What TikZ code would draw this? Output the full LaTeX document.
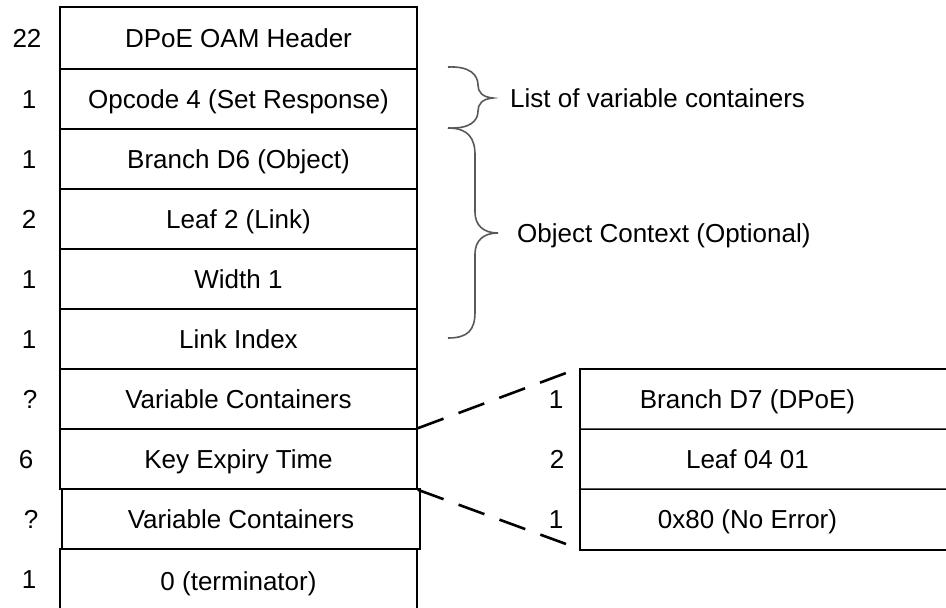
\documentclass[tikz,border=0pt]{standalone}
\usepackage{fontspec}
\setmainfont{Liberation Sans}
\begin{document}
\begin{tikzpicture}[x=1pt,y=-1pt,
  txt/.style={font=\fontsize{26}{30}\selectfont, inner sep=0pt, text height=18.6pt, text depth=0pt},
  cell/.style={txt, draw, line width=1.5pt, minimum width=357pt, minimum height=60pt},
  rcell/.style={txt, minimum width=335pt, minimum height=60pt},
  num/.style={txt},
  boxline/.style={line width=1.5pt},
  conn/.style={line width=2.6pt, dash pattern=on 27.5pt off 16pt},
  bracecurve/.style={line width=1.6pt, draw=black!65}]
\clip (0,0) rectangle (946,608);
% main column
\node[cell, minimum height=62pt] (r1) at (238.5,38) {DPoE OAM Header};
\node[cell] (r2) at (238.5,99) {Opcode 4 (Set Response)};
\node[cell] (r3) at (238.5,159) {Branch D6 (Object)};
\node[cell] (r4) at (238.5,219) {Leaf 2 (Link)};
\node[cell] (r5) at (238.5,279) {Width 1};
\node[cell] (r6) at (238.5,339) {Link Index};
\node[cell] (r7) at (238.5,399) {Variable Containers};
\node[cell] (r8) at (238.5,459) {Key Expiry Time};
\node[cell, minimum width=358pt] (r9) at (241,519) {Variable Containers};
\node[cell, minimum height=64pt] (r10) at (238.5,581) {0 (terminator)};
% sizes
\node[num] (n1) at (27,38) {22};
\node[num] (n2) at (29,99) {1};
\node[num] (n3) at (29,159) {1};
\node[num] (n4) at (29,219) {2};
\node[num] (n5) at (29,279) {1};
\node[num] (n6) at (29,339) {1};
\node[num] (n7) at (30,399) {?};
\node[num] (n8) at (26,459) {6};
\node[num] (n9) at (31,519) {?};
\node[num] (n10) at (29,579) {1};
% right column
\node[rcell] (b1) at (747.5,399) {Branch D7 (DPoE)};
\node[rcell] (b2) at (747.5,459) {Leaf 04 01};
\node[rcell] (b3) at (747.5,519.5) {0x80 (No Error)};
\draw[boxline] (960,369) -- (580,369) -- (580,550) -- (960,550);
\draw[boxline] (b1.south west) -- (960,429);
\draw[boxline] (b2.south west) -- (960,489);
\node[num] (m1) at (556,399) {1};
\node[num] (m2) at (557,459) {2};
\node[num] (m3) at (556,519) {1};
% dashed connectors
\coordinate (d1) at (566,373);
\coordinate (d2) at (566,544);
\draw[conn] (r8.north east) -- (d1);
\draw[conn] (r8.south east) -- (d2);
% braces
\draw[bracecurve] (448,67) .. controls (470,66) and (478,75) .. (478,85)
  .. controls (478,92) and (482,97) .. (493,98)
  .. controls (482,99) and (478,104) .. (478,111)
  .. controls (478,121) and (470,129) .. (448,128);
\draw[bracecurve] (448,128) .. controls (468,128) and (475,138) .. (475,155)
  -- (475,212) .. controls (475,225) and (483,233) .. (498,233)
  .. controls (483,233) and (475,241) .. (475,254)
  -- (475,312) .. controls (475,330) and (468,338) .. (448,338);
\node[num, anchor=west] (l1) at (510,98) {List of variable containers};
\node[num, anchor=west] (l2) at (517,233) {Object Context (Optional)};
\end{tikzpicture}
\end{document}
